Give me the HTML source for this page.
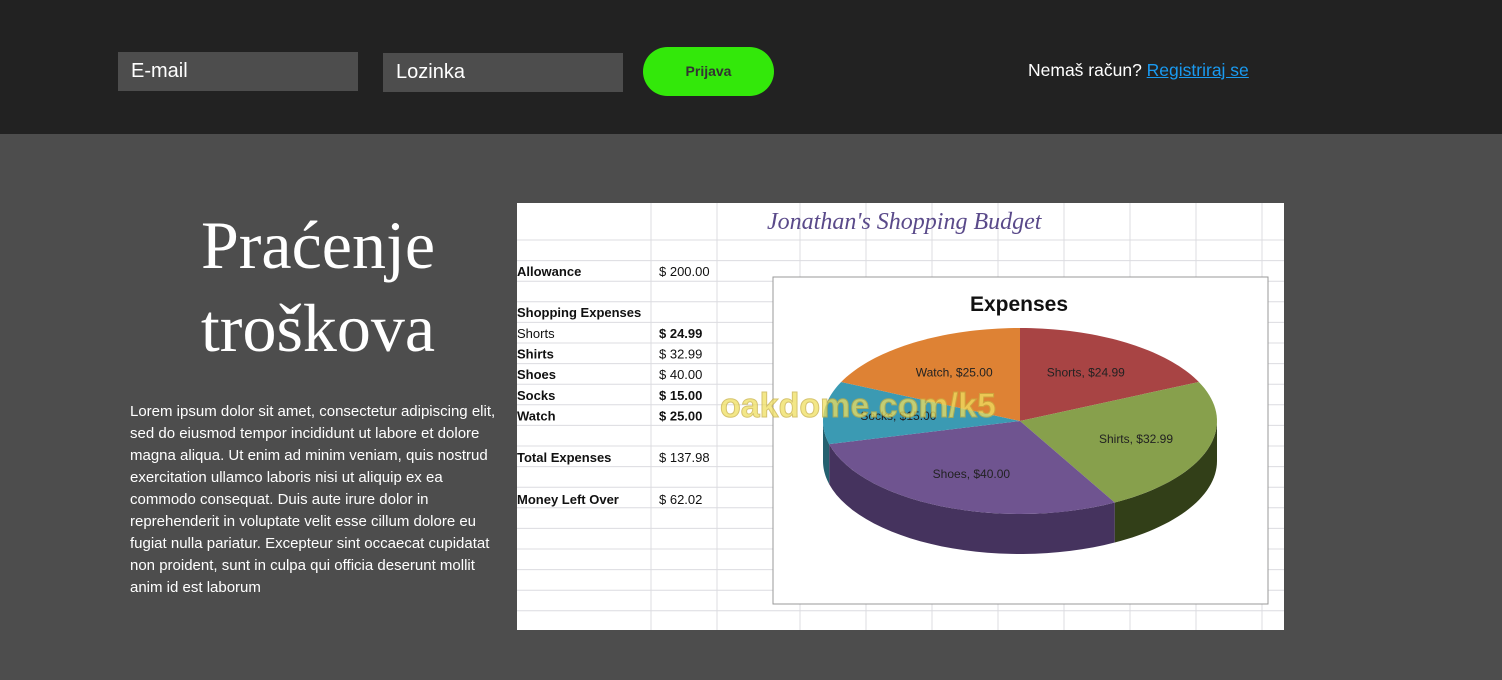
<!DOCTYPE html>
<html><head><meta charset="utf-8">
<style>
*{margin:0;padding:0;box-sizing:border-box}
body{width:1502px;height:680px;background:#4d4d4d;font-family:"Liberation Sans",sans-serif;position:relative;overflow:hidden}
#hdr{position:absolute;left:0;top:0;width:1502px;height:134px;background:#222}
.inp{position:absolute;background:#4d4d4d;color:#fff;font-size:20px;padding-left:13px;line-height:39px;height:39px;width:240px}
#btn{position:absolute;left:643px;top:47px;width:131px;height:49px;border-radius:25px;background:#33e80a;color:#333;font-weight:bold;font-size:14px;text-align:center;line-height:49px}
#reg{position:absolute;left:1028px;top:60px;color:#fff;font-size:17.5px}
#reg a{color:#1a9af0;text-decoration:underline}
#title{position:absolute;left:120px;top:204px;width:396px;text-align:center;color:#fff;font-family:"Liberation Serif",serif;font-size:68px;line-height:83px}
#para{position:absolute;left:130px;top:401px;width:370px;color:#fff;font-size:15px;line-height:22px}
#sheet{position:absolute;left:517px;top:203px}
</style></head><body>
<div id="hdr">
 <div class="inp" style="left:118px;top:52px">E-mail</div>
 <div class="inp" style="left:383px;top:53px">Lozinka</div>
 <div id="btn">Prijava</div>
 <div id="reg">Nemaš račun? <a>Registriraj se</a></div>
</div>
<div id="title">Praćenje troškova</div>
<div id="para">Lorem ipsum dolor sit amet, consectetur adipiscing elit, sed do eiusmod tempor incididunt ut labore et dolore magna aliqua. Ut enim ad minim veniam, quis nostrud exercitation ullamco laboris nisi ut aliquip ex ea commodo consequat. Duis aute irure dolor in reprehenderit in voluptate velit esse cillum dolore eu fugiat nulla pariatur. Excepteur sint occaecat cupidatat non proident, sunt in culpa qui officia deserunt mollit anim id est laborum</div>
<svg id="sheet" width="767" height="427" font-family="Liberation Sans, sans-serif">
<rect width="767" height="427" fill="#fff"/>
<g id="grid" stroke="#dcdce0" stroke-width="1"></g>
<text x="250" y="26" font-family="Liberation Serif, serif" font-style="italic" font-size="24" fill="#5a4a8a">Jonathan's Shopping Budget</text>
<g id="table" font-size="13" fill="#111"></g>
<rect x="256" y="74" width="495" height="327" fill="#fff" stroke="#999"/>
<text x="502" y="108" text-anchor="middle" font-size="21" font-weight="bold" fill="#111">Expenses</text>
<g id="pie"></g>
<text x="203" y="214" font-size="34" font-weight="bold" fill="#f0e060" opacity="0.75" stroke="#c8b040" stroke-width="1">oakdome.com/k5</text>
</svg>
<script>
const labels=["Shorts","Shirts","Shoes","Socks","Watch"];
const values=[24.99,32.99,40.00,15.00,25.00];
const colors=["#a84444","#87a04c","#6f5490","#3b9ab3","#de8234"];
const sides=["#6e2c2c","#323f18","#45335e","#24606f","#8c5020"];
const NS="http://www.w3.org/2000/svg";
function mk(t,a,p){const e=document.createElementNS(NS,t);for(const k in a)e.setAttribute(k,a[k]);p.appendChild(e);return e;}
const grid=document.getElementById('grid');
[134,200,283,349,415,481,547,613,679,745].forEach(x=>mk('line',{x1:x,y1:0,x2:x,y2:427},grid));
for(let y=37;y<427;y+=20.6)mk('line',{x1:0,y1:y,x2:767,y2:y},grid);
const tbl=document.getElementById('table');
const rows=[["Allowance","$ 200.00",73],["Shopping Expenses","",114],["Total Expenses","$ 137.98",259],["Money Left Over","$  62.02",301]];
rows.forEach(r=>{const t=mk('text',{x:0,y:r[2],'font-weight':'bold'},tbl);t.textContent=r[0];
 if(r[1]){const v=mk('text',{x:142,y:r[2]},tbl);v.textContent=r[1];}});
labels.forEach((l,i)=>{const y=135+i*20.6;const t=mk('text',{x:0,y:y,'font-weight':i?'bold':'normal'},tbl);t.textContent=l;
 
 const v=mk('text',{x:142,y:y,'font-weight':(i==0||i==3||i==4)?'bold':'normal'},tbl);v.textContent="$  "+values[i].toFixed(2);
 });
const pie=document.getElementById('pie');
const cx=503,cy=218,rx=197,ry=93,depth=40;
const total=values.reduce((a,b)=>a+b,0);
function pt(a,dy){return [cx+rx*Math.sin(a),cy-ry*Math.cos(a)+(dy||0)];}
let start=0;const angs=[];
values.forEach(v=>{const e=start+v/total*2*Math.PI;angs.push([start,e]);start=e;});
angs.forEach((a,i)=>{const s=Math.max(a[0],Math.PI/2),e=Math.min(a[1],1.5*Math.PI);if(e<=s)return;
 let d="";const N=30;for(let k=0;k<=N;k++){const p=pt(s+(e-s)*k/N);d+=(k?"L":"M")+p[0]+","+p[1];}
 for(let k=N;k>=0;k--){const p=pt(s+(e-s)*k/N,depth);d+="L"+p[0]+","+p[1];}
 const p=mk('path',{d:d+"Z",fill:sides[i]},pie);
 });
angs.forEach((a,i)=>{let d="M"+cx+","+cy;const N=40;for(let k=0;k<=N;k++){const p=pt(a[0]+(a[1]-a[0])*k/N);d+="L"+p[0]+","+p[1];}
 const p=mk('path',{d:d+"Z",fill:colors[i]},pie);
 
 const m=(a[0]+a[1])/2;const q=[cx+rx*0.62*Math.sin(m),cy-ry*0.62*Math.cos(m)+4];
 const t=mk('text',{x:q[0],y:q[1],'text-anchor':'middle','font-size':12,fill:'#222'},pie);
 t.textContent=labels[i]+",  $"+values[i].toFixed(2);
 });
</script>
</body></html>
